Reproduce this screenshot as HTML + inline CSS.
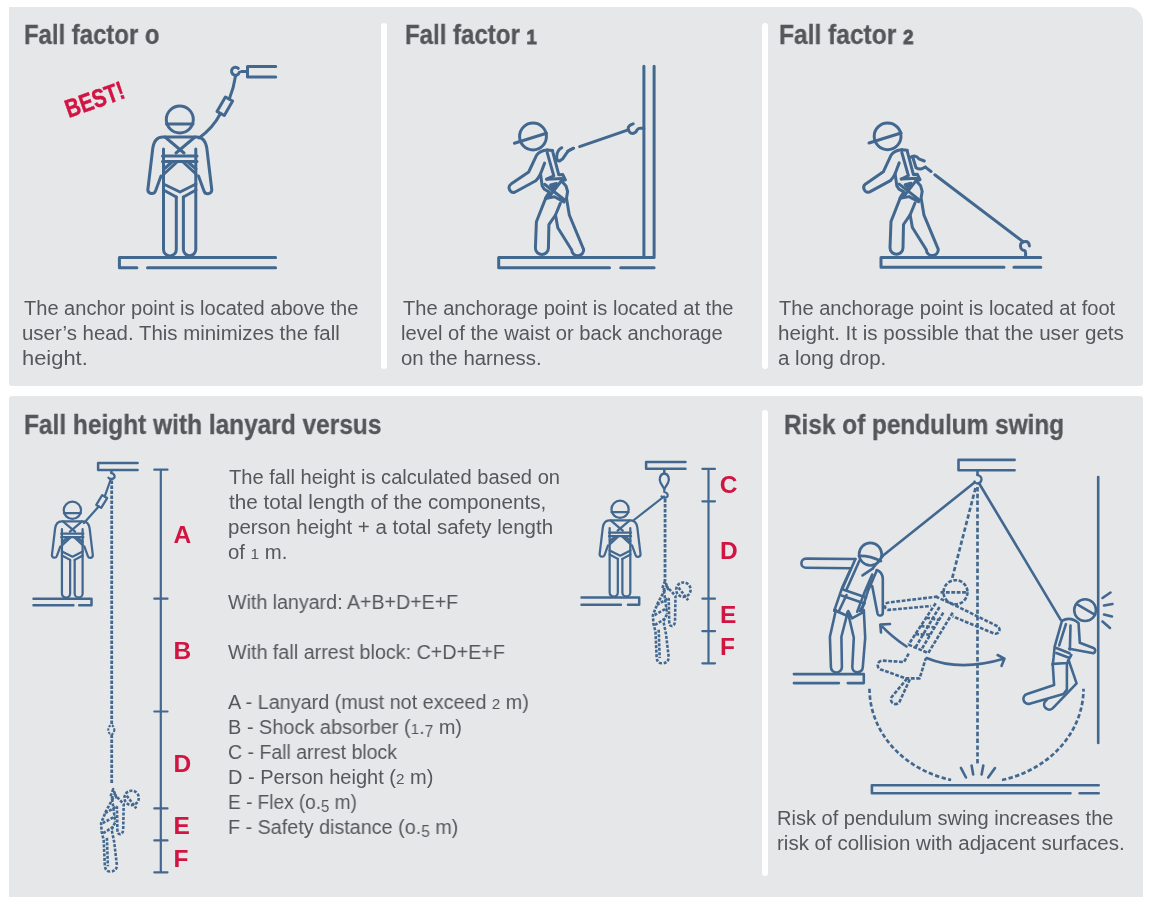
<!DOCTYPE html>
<html><head><meta charset="utf-8">
<style>
html,body{margin:0;padding:0;background:#fff;}
body{width:1152px;height:904px;position:relative;overflow:hidden;font-family:"Liberation Sans",sans-serif;}
.pan{position:absolute;background:#e6e7e9;}
.sep{position:absolute;background:#fff;border-radius:3px;width:6px;}
.t{position:absolute;white-space:nowrap;color:#55575b;font-size:20px;line-height:25px;transform-origin:0 0;}
.h{position:absolute;white-space:nowrap;color:#545659;font-weight:bold;font-size:26.8px;line-height:30px;transform-origin:0 0;}
.os{font-size:0.76em;}
.od{font-size:0.78em;position:relative;top:0.22em;}
.h{-webkit-text-stroke:0.3px #545659;}
.h .os{-webkit-text-stroke:1px #545659;}
svg{position:absolute;left:0;top:0;}
.t,.h{will-change:transform;}
</style></head><body>
<div class="pan" style="left:9px;top:7px;width:1134px;height:379px;border-radius:0 15px 3px 3px;"></div>
<div class="pan" style="left:9px;top:396px;width:1134px;height:501px;border-radius:3px 3px 0 0;"></div>
<div class="sep" style="left:381px;top:23px;height:346px;"></div>
<div class="sep" style="left:762px;top:23px;height:346px;"></div>
<div class="sep" style="left:762px;top:410px;height:466px;"></div>

<div class="h" id="L0" style="left:24.21px;top:19.51px;transform:scaleX(0.8920)">Fall factor o</div>
<div class="h" id="L1" style="left:405.10px;top:19.51px;transform:scaleX(0.8966)">Fall factor <span class="os">1</span></div>
<div class="h" id="L2" style="left:778.98px;top:19.51px;transform:scaleX(0.9158)">Fall factor <span class="os">2</span></div>
<div class="h" id="L3" style="left:24.09px;top:409.51px;transform:scaleX(0.9126)">Fall height with lanyard versus</div>
<div class="h" id="L4" style="left:784.09px;top:409.51px;transform:scaleX(0.9088)">Risk of pendulum swing</div>
<div class="t" id="L5" style="left:23.50px;top:295.57px;transform:scaleX(1.0024)">The anchor point is located above the</div>
<div class="t" id="L6" style="left:22.48px;top:320.57px;transform:scaleX(1.0210)">user’s head. This minimizes the fall</div>
<div class="t" id="L7" style="left:22.41px;top:345.57px;transform:scaleX(1.0947)">height.</div>
<div class="t" id="L8" style="left:402.50px;top:295.57px;transform:scaleX(1.0043)">The anchorage point is located at the</div>
<div class="t" id="L9" style="left:401.49px;top:320.57px;transform:scaleX(1.0085)">level of the waist or back anchorage</div>
<div class="t" id="L10" style="left:401.48px;top:345.57px;transform:scaleX(1.0200)">on the harness.</div>
<div class="t" id="L11" style="left:778.90px;top:295.57px;transform:scaleX(1.0045)">The anchorage point is located at foot</div>
<div class="t" id="L12" style="left:777.87px;top:320.57px;transform:scaleX(1.0302)">height. It is possible that the user gets</div>
<div class="t" id="L13" style="left:777.87px;top:345.57px;transform:scaleX(1.0252)">a long drop.</div>
<div class="t" id="L14" style="left:228.60px;top:464.57px;transform:scaleX(1.0058)">The fall height is calculated based on</div>
<div class="t" id="L15" style="left:228.60px;top:489.57px;transform:scaleX(1.0341)">the total length of the components,</div>
<div class="t" id="L16" style="left:227.58px;top:514.57px;transform:scaleX(1.0241)">person height + a total safety length</div>
<div class="t" id="L17" style="left:227.58px;top:539.57px;transform:scaleX(1.0161)">of <span class="os">1</span> m.</div>
<div class="t" id="L18" style="left:227.70px;top:589.57px;transform:scaleX(0.9812)">With lanyard: A+B+D+E+F</div>
<div class="t" id="L19" style="left:227.70px;top:639.57px;transform:scaleX(0.9864)">With fall arrest block: C+D+E+F</div>
<div class="t" id="L20" style="left:227.70px;top:689.57px;transform:scaleX(0.9891)">A - Lanyard (must not exceed <span class="os">2</span> m)</div>
<div class="t" id="L21" style="left:227.60px;top:714.57px;transform:scaleX(0.9957)">B - Shock absorber (<span class="os">1</span>.<span class="od">7</span> m)</div>
<div class="t" id="L22" style="left:227.62px;top:739.57px;transform:scaleX(0.9750)">C - Fall arrest block</div>
<div class="t" id="L23" style="left:227.60px;top:764.57px;transform:scaleX(1.0005)">D - Person height (<span class="os">2</span> m)</div>
<div class="t" id="L24" style="left:227.65px;top:789.57px;transform:scaleX(0.9519)">E - Flex (o.<span class="od">5</span> m)</div>
<div class="t" id="L25" style="left:227.61px;top:814.57px;transform:scaleX(0.9874)">F - Safety distance (o.<span class="od">5</span> m)</div>
<div class="t" id="L26" style="left:776.80px;top:805.57px;transform:scaleX(1.0021)">Risk of pendulum swing increases the</div>
<div class="t" id="L27" style="left:776.77px;top:830.57px;transform:scaleX(1.0256)">risk of collision with adjacent surfaces.</div>

<svg width="1152" height="904" viewBox="0 0 1152 904" fill="none" stroke="#42688f" stroke-width="3" stroke-linecap="round" stroke-linejoin="round">
<defs>
 <g id="stand">
  <circle cx="179.8" cy="119.5" r="13.5"/>
  <path d="M166.5,124 L193,124"/>
  <path d="M161,176 L155.5,191 A4,4 0 0 1 147.8,190 L152.8,148 Q154.5,137 163,137 L196.5,137 Q205,137 206.8,148 L211.8,190 A4,4 0 0 1 204,191 L198.5,176"/>
  <path d="M163.5,149 L163.5,249.5 A6.4,6.4 0 0 0 176.3,249.5 L176.3,197"/>
  <path d="M183.4,197 L183.4,249.5 A6.2,6.2 0 0 0 195.8,249.5 L195.8,149"/>
  <path d="M165,137 L184,153 M195,137 L176,153"/>
  <path d="M162.5,156 L197,156 M162.5,161.5 L197,161.5"/>
  <path d="M177,162 L164,174 M172,162 L164,169 M183,162 L196,174 M188,162 L196,169"/>
  <path d="M163.5,184 L180,192 L196,184 M163.5,190 L176.3,197 M183.4,197 L196,190"/>
 </g>
 <g id="lean">
  <circle cx="533" cy="136.5" r="13.4"/>
  <path d="M514.4,143.2 L546.5,133.2"/>
  <path d="M547.2,150 Q540,150.5 536.5,155.4 L528.7,172 L511,184.1 A4.6,4.6 0 0 0 514.7,192.3 L535.8,180.8 Q538.5,178 540.5,174 L544.6,163.1"/>
  <path d="M547.2,150 L552.7,150.5 M547.2,152.7 L553.8,175.9 L546.6,179.2"/>
  <path d="M552.7,151.6 L558.8,174.8 L562.7,174.4 L565.4,179.9 L561.5,181 L566,186 L567.6,191.5 L566.5,198.2 L569.3,215 L583.7,249.6 A6,6 0 0 1 571.7,250 L557.8,227.7 L555.5,215 L560.4,203.2"/>
  <path d="M540.5,173.8 L542.2,186 L544.4,189.3 L549.4,192.1 L546.1,197.1 L536.4,221.7 L535.4,248 A6.5,6.5 0 0 0 548.4,248 L548.9,224.7 L555.5,215"/>
  <path d="M544.6,184.3 L565,200.3 M561.5,180.8 L549,196.7 M545.5,198.5 L554.4,196.8 L564,202 M546.6,179.2 L562.4,178.5"/>
  <path d="M550.5,185 L556.5,183.5 L554.5,189.5 Z" fill="#42688f"/>
 </g>
</defs>
<!-- Fig 1 -->
<use href="#stand"/>
<path d="M119.4,257.5 L275.6,257.5 M119.4,257.5 L119.4,267.7 L136.9,267.7 M147.5,267.7 L275.6,267.7"/>
<path d="M275.7,66.6 L247.5,66.6 L247.5,77.1 L275.7,77.1 M241.4,71.6 L247.5,71.6"/>
<path d="M238.3,68.3 A4,4 0 1 0 239.4,72.2"/>
<path d="M235.5,76 Q234,87 229.3,99 M220.5,113.5 Q213,128 199,138"/>
<path d="M225.4,97 L232.6,101 L224.3,115.5 L217,111.4 Z"/>
<!-- Fig 2 -->
<use href="#lean"/>
<path d="M643.9,66.2 L643.9,257.4 M654.1,66.2 L654.1,257.4 M498.7,257.4 L654.1,257.4 M498.7,257.4 L498.7,267.8 L609.5,267.8 M620.7,267.8 L654.1,267.8"/>
<path d="M633.2,123.9 Q628,125.5 628.2,128.5 Q629,133.4 632.4,133.4 Q636,133 637,130 Q638,128.2 640,128.2 L643.9,128.2"/>
<path d="M628.2,129.8 L579.6,146.6 M573.6,148.2 L567.7,151"/>
<path d="M561.8,147.7 Q557,150 556.6,157 Q557,161.5 559.5,161 Q563,159.5 565,155.5 Q567.5,150.5 573.2,148.3"/>
<!-- Fig 3 -->
<use href="#lean" transform="translate(354.6,-0.2)"/>
<path d="M881,257.4 L1040.8,257.4 M881,257.4 L881,267.3 L1004,267.3 M1013.9,267.3 L1040.8,267.3"/>
<path d="M1029.4,245.9 Q1029,241.4 1025.4,241.4 Q1020.4,241.4 1020.4,245.9 Q1021,250.4 1024.4,250.4 Q1025.6,251 1025.6,253 L1025.6,257.4"/>
<path d="M934.8,174.8 L1023.4,241.9 M925.4,167.1 L931,171.5"/>
<path d="M911,157.1 Q912,156 914.4,156 Q917.5,156.5 918.8,158.8 L924.3,161 M913,158 L916,167.7 Q919,169.5 921.5,168.8 L925.4,167.1"/>
<!-- BEST -->
<text x="0" y="0" transform="translate(68.8,118) rotate(-19.5) scale(0.8,1)" fill="#d21443" stroke="#d21443" stroke-width="0.5" font-family="Liberation Sans" font-weight="bold" font-size="25.5">BEST!</text>
<defs>
 <g id="hang" stroke-dasharray="3 1.5" stroke-width="2.6" stroke-linecap="butt">
  <circle cx="683.4" cy="589.7" r="7.2"/>
  <path d="M678.6,587.6 L688.1,600.2"/>
  <path d="M666,585.5 L675.5,596 L675,621.5 Q674.5,626 671.8,626 Q669.2,626 669.2,621.3 L668.7,598.1"/>
  <path d="M665,589.7 L657.6,603.4 L652.9,615 L653.4,623.4 L655.5,631.8 L656.6,657 Q657,663.3 661.8,663.3 Q668.5,663.3 668.7,657 L666,633.9 L663.4,621.3 L667.6,612.9"/>
  <path d="M658.7,629.7 L659.7,658 M663.9,590.8 L667.1,613.9 M657,605 L669,598 M654.5,615 L667,608 M655,625 L666,618"/>
  <path d="M665,581 L662,589 L668,589 Z"/>
 </g>
 <g id="standS" transform="translate(-42.7,433.8) scale(0.64)">
  <use href="#stand" stroke-width="3.5"/>
 </g>
</defs>
<!-- Bottom-left diagram -->
<use href="#standS"/>
<path d="M33.5,598.7 L91.5,598.7 L91.5,605.2 L79.2,605.2 M73.4,605.2 L33.5,605.2" stroke-width="2.5"/>
<path d="M137.6,463 L98.1,463 L98.1,470 L137.6,470 M111.4,470 L111.4,473" stroke-width="2.5"/>
<path d="M111.4,473 Q115,474 114.5,477.5 Q112,480.5 108.5,477.8" stroke-width="2.3"/>
<path d="M110.5,480 L104.66,496.57 M98.74,506.43 L84,523.1" stroke-width="2.2"/>
<path d="M107.15,498.06 L102.17,495.08 L96.25,504.94 L101.23,507.92 Z" stroke-width="2.2"/>
<path d="M111.7,480.5 L111.7,725 M111.7,734.5 L111.7,784" stroke-width="2.8" stroke-dasharray="3.4 1.6" stroke-linecap="butt"/>
<ellipse cx="111.3" cy="729.8" rx="3" ry="4.5" stroke-width="2.1" stroke-dasharray="2.2 1.4" stroke-linecap="butt"/>
<use href="#hang" transform="translate(-551.8,208.2)"/>
<path d="M160.8,469.7 L160.8,872.3 M154.3,469.7 L167.5,469.7 M154.3,598.7 L167.5,598.7 M154.3,711.5 L167.5,711.5 M154.3,808.4 L167.5,808.4 M154.3,840.4 L167.5,840.4 M154.3,872.3 L167.5,872.3" stroke-width="2.2"/>
<!-- Middle diagram -->
<use href="#standS" transform="translate(547.7,-1)"/>
<path d="M581.5,597.6 L639.2,597.6 L639.2,604.7 L628,604.7 M620.9,604.7 L581.5,604.7" stroke-width="2.5"/>
<path d="M685.5,462.1 L646.1,462.1 L646.1,468.7 L685.5,468.7 M664.3,468.7 L664.3,473" stroke-width="2.5"/>
<path d="M664.3,473.5 C659.8,474 658.8,479.5 660.6,482.8 L664.3,489 L668,482.8 C669.8,479.5 668.8,474 664.3,473.5 Z" stroke-width="2.3"/>
<path d="M664.3,489 L664.3,492 Q668.5,493 667.5,496.5 Q665,499 661.5,496.5" stroke-width="2.2"/>
<path d="M664,496.5 L633.3,520.5" stroke-width="2.2"/>
<path d="M665.1,499 L665,581" stroke-width="2.8" stroke-dasharray="3.4 1.6" stroke-linecap="butt"/>
<use href="#hang"/>
<path d="M708.5,468.8 L708.5,663.3 M702.4,468.8 L715,468.8 M702.4,501.3 L715,501.3 M702.4,598.7 L715,598.7 M702.4,631.2 L715,631.2 M702.4,663.3 L715,663.3" stroke-width="2.2"/>
<g fill="#d21443" stroke="none" font-family="Liberation Sans" font-weight="bold" font-size="24.5">
 <text x="173.5" y="542.9">A</text>
 <text x="173.4" y="658.8">B</text>
 <text x="173.4" y="771.6">D</text>
 <text x="173.4" y="833.5">E</text>
 <text x="173.4" y="866.6">F</text>
 <text x="719.8" y="493.2">C</text>
 <text x="719.9" y="558.7">D</text>
 <text x="719.9" y="622.6">E</text>
 <text x="719.9" y="655.1">F</text>
</g>
<!-- Pendulum diagram -->
<g stroke-width="2.6">
<path d="M1014.6,459.9 L958.5,459.9 L958.5,470.2 L1014.6,470.2 M977.5,470.2 L977.5,475"/>
<path d="M977.5,475 Q981.5,476 981.5,479.5 Q981,483.5 977,483.5 Q975,483 974.5,481.5" stroke-width="2.3"/>
<path d="M974.5,482.5 L883.7,555 L873,568" />
<path d="M979.5,484 L1060.6,619.6"/>
<path d="M1098.2,477 L1098.2,743"/>
<path d="M1102.5,598 L1110.5,592.5 M1104,605.5 L1112.5,604 M1104,614.5 L1112,616.5 M1102.5,621.5 L1110,628"/>
<path d="M793.9,674.1 L863.8,674.1 L863.8,683.1 L847.8,683.1 M838.9,683.1 L793.9,683.1"/>
<path d="M1098.7,785.3 L871.9,785.3 L871.9,793.3 L1070.5,793.3 M1079.6,793.3 L1098.7,793.3"/>
<path d="M960.9,767.9 L966,777.5 M971.6,765.5 L973.2,774.5 M983.3,765.5 L981.6,774.5 M995,768 L988.2,777.5"/>
<path d="M906.5,646.5 Q892,637 880.3,624.6 M890,624 L880.3,624.6 L881,632.5"/>
<path d="M926.5,658 Q960,672 1004.5,658.6 M997.6,655 L1004.5,658.6 L1001.5,665.9"/>
</g>
<g stroke-width="2.7" stroke-dasharray="4.4 2.4" stroke-linecap="butt">
<path d="M977.5,487 L977.5,764"/>
<path d="M975.5,488 L952,579"/>
<path d="M869.5,688.7 A107,94 0 0 0 951.1,780"/>
<path d="M1002,780 A107,94 0 0 0 1083.5,688.7"/>
</g>
<!-- left person solid -->
<g stroke-width="2.6">
<circle cx="870.4" cy="554.2" r="11.3"/>
<path d="M858.9,555.9 Q870,555.5 881,561.2"/>
<path d="M855.4,559 L806,558.6 A4.6,4.6 0 0 0 806,567.8 L851,568.3 L842.1,587.8 L834.2,610.8"/>
<path d="M855.4,559 L842.6,588.2 M859.5,560.5 L846.5,589.6 M873,568.3 L862.5,575.4 M846.5,595 L838.5,612 M864.5,603 L860,611"/>
<path d="M876.6,571 L867.8,591.3 L861.6,610.8 M872.2,574.5 L864.2,593.1 L857.2,611.7"/>
<path d="M843,589.6 L866,597.5 M841.5,595.5 L864.5,603.4"/>
<path d="M876.6,570.1 Q882,572 882.8,578 L882.8,612.6 A2.7,2.7 0 0 1 877.5,613.5 L872.2,586"/>
<path d="M835.9,610 L829.9,636.8 L830.9,667 A5.5,5.5 0 0 0 841.9,667 L841.4,636.8 L847.8,611.9 L853.8,637.8 L852.3,667 A5.25,5.25 0 0 0 862.8,667 L865.2,637.8 L863.8,610"/>
<path d="M834.2,610 L846.4,615.5 L848.3,611 L852,618.3 L862.4,612.7"/>
</g>
<!-- right person solid -->
<g stroke-width="2.6">
<circle cx="1085.1" cy="610.1" r="10.9"/>
<path d="M1077.2,604.3 L1095.1,614.9"/>
<path d="M1061.9,620.9 Q1069.9,616 1078.5,622.9 L1079.8,642.8 L1093.5,648 A2.8,2.8 0 0 1 1093.5,653.2 L1069.2,648.8"/>
<path d="M1061.9,621 L1054.6,646.8 L1053.6,657.7 L1052.7,664.8"/>
<path d="M1065.9,624.2 L1059.2,645.4 M1070.5,625.5 L1069.9,649.4"/>
<path d="M1056.3,648 L1069.6,653.3 M1056.3,653 L1069.6,658 M1052.7,663.9 L1067.8,663 M1071.3,655 L1067.8,661.2"/>
<path d="M1052.7,664 L1054.1,685.1 L1027.1,694 A4.8,4.8 0 0 0 1029.7,703.7 L1063.4,694 L1066.9,689.6 L1066.9,663"/>
<path d="M1068.7,660.4 L1076.6,683.4 L1053.6,707.3 A3.8,3.8 0 0 1 1045,701.5 L1047,699.5"/>
</g>
<!-- middle dashed person -->
<g stroke-width="2.6" stroke-dasharray="3.8 1.6" stroke-linecap="butt">
<circle cx="955.5" cy="592.2" r="12"/>
<path d="M940.5,592.4 L967.7,592.4"/>
<path d="M937.6,596.6 L888.6,602.5 A3.7,3.7 0 0 0 888.6,609.9 L931,606"/>
<path d="M935.7,596.6 L956.4,606 L997,626 A3.7,3.7 0 0 1 994,633.5 L952.7,616.4"/>
<path d="M935.7,603.2 L908.5,644.6 M939.5,607 L916,646.5 M943.3,612.6 L921.6,649.3 M952.7,612.6 L928.2,653.1 M908.5,644.6 L928.2,653.1"/>
<path d="M926.2,617.7 L939,619.9 M920.7,626 L934.6,627.3 M915.3,634.3 L930.3,634.6"/>
<path d="M908.7,653.6 L904,662 L882.4,660.6 A4.7,4.7 0 0 0 882.4,670 L905.6,678.4 L919.6,678.4 L925.8,658.3"/>
<path d="M907.2,678.4 L891.7,697 A4,4 0 0 0 899.4,702 L910.3,678.4"/>
</g>
</svg>

</body></html>
